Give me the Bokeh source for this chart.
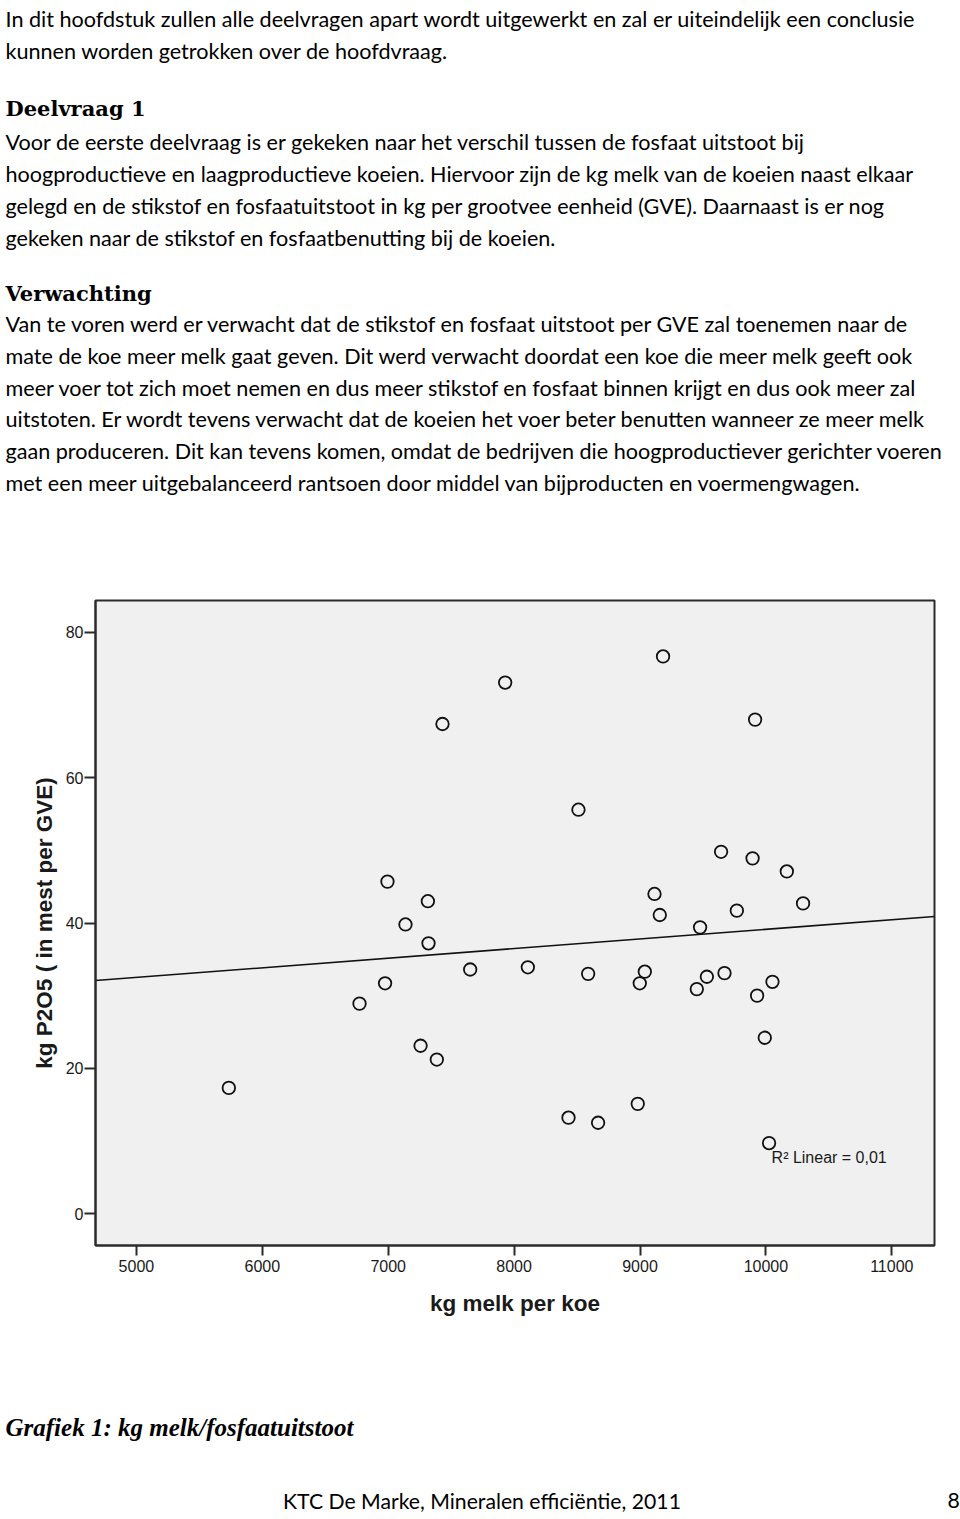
import numpy as np
from bokeh.plotting import figure
from bokeh.models import Range1d, FixedTicker, Label
from bokeh.core.properties import value
from bokeh.embed import file_html
from bokeh.resources import INLINE

# ---------------- data ----------------
milk_kg = [5734, 6772, 6975, 6994, 7137, 7257, 7315, 7320, 7386, 7431,
           7651, 7929, 8109, 8432, 8511, 8588, 8667, 8982, 8998, 9038,
           9115, 9157, 9183, 9451, 9477, 9531, 9644, 9671, 9769, 9894,
           9914, 9930, 9991, 10025, 10052, 10166, 10295]
p2o5_kg = [17.3, 28.9, 31.7, 45.7, 39.8, 23.1, 43.0, 37.2, 21.2, 67.4,
           33.6, 73.1, 33.9, 13.2, 55.6, 33.0, 12.5, 15.1, 31.7, 33.3,
           44.0, 41.1, 76.7, 30.9, 39.4, 32.6, 49.8, 33.1, 41.7, 48.9,
           68.0, 30.0, 24.2, 9.7, 31.9, 47.1, 42.7]
x_ticks = [5000, 6000, 7000, 8000, 9000, 10000, 11000]
y_ticks = [0, 20, 40, 60, 80]
x_bounds = (4675, 11339)
y_bounds = (-4.4, 84.4)
r2_text = "R\u00b2 Linear = 0,01"
x_title = "kg melk per koe"
y_title = "kg P2O5 ( in mest per GVE)"

# page texts: (text, baseline, style)
page_lines = [
    ("In dit hoofdstuk zullen alle deelvragen apart wordt uitgewerkt en zal er uiteindelijk een conclusie", 18.3, "body"),
    ("kunnen worden getrokken over de hoofdvraag.", 50.0, "body"),
    ("Deelvraag 1", 108.0, "head"),
    ("Voor de eerste deelvraag is er gekeken naar het verschil tussen de fosfaat uitstoot bij", 141.7, "body"),
    ("hoogproductieve en laagproductieve koeien. Hiervoor zijn de kg melk van de koeien naast elkaar", 173.6, "body"),
    ("gelegd en de stikstof en fosfaatuitstoot in kg per grootvee eenheid (GVE). Daarnaast is er nog", 205.5, "body"),
    ("gekeken naar de stikstof en fosfaatbenutting bij de koeien.", 237.3, "body"),
    ("Verwachting", 293.3, "head"),
    ("Van te voren werd er verwacht dat de stikstof en fosfaat uitstoot per GVE zal toenemen naar de", 323.3, "body"),
    ("mate de koe meer melk gaat geven. Dit werd verwacht doordat een koe die meer melk geeft ook", 355.1, "body"),
    ("meer voer tot zich moet nemen en dus meer stikstof en fosfaat binnen krijgt en dus ook meer zal", 387.0, "body"),
    ("uitstoten.  Er wordt tevens verwacht dat de koeien het voer beter benutten wanneer ze meer melk", 418.7, "body"),
    ("gaan produceren. Dit kan tevens komen, omdat de bedrijven die hoogproductiever gerichter voeren", 450.5, "body"),
    ("met een meer uitgebalanceerd rantsoen door middel van bijproducten en voermengwagen.", 482.3, "body"),
]
caption = "Grafiek 1:  kg melk/fosfaatuitstoot"
footer = "KTC De Marke, Mineralen effici\u00ebntie, 2011"
page_no = "8"

body_font = "Lato"
head_font = "DejaVu Serif"
axis_font = "Liberation Sans"
ink = "#1a1a1a"

W = 960
TOP_H = 540                  # page rows 0..540
CH_Y0, CH_H = 540, 820       # chart occupies page rows 540..1360
BOT_Y0 = 1365                # browser leaves a small gap before the last root
BOT_H = 154


def text_panel(y0, h):
    f = figure(width=W, height=h, output_backend="svg", toolbar_location=None,
               x_range=Range1d(0, W), y_range=Range1d(y0 + h, y0),
               x_axis_location=None, y_axis_location=None, min_border=0,
               min_border_left=0, min_border_right=0, min_border_top=0,
               min_border_bottom=0, outline_line_color=None,
               background_fill_color="white", border_fill_color="white")
    f.grid.visible = False
    return f


def put(f, x, y, txt, font, size, style="normal", align="left"):
    f.text(x=[x], y=[y], text=[txt], text_font=value(font), text_font_size=size,
           text_font_style=style, text_color="black",
           text_baseline="alphabetic", text_align=align)


# ---------------- top text ----------------
top = text_panel(0, TOP_H)
for txt, base, kind in page_lines:
    if kind == "head":
        put(top, 5, base, txt, head_font, "21px", "bold")
    else:
        put(top, 5, base, txt, body_font, "21.6px")

# ---------------- chart ----------------
p = figure(width=W, height=CH_H, output_backend="svg", toolbar_location=None,
           x_range=Range1d(*x_bounds), y_range=Range1d(*y_bounds),
           min_border_left=95, min_border_right=26, min_border_top=600 - CH_Y0,
           min_border_bottom=CH_Y0 + CH_H - 1245, background_fill_color="#f0f0f0",
           border_fill_color="white", outline_line_color="#2b2b2b",
           outline_line_width=2)
p.grid.visible = False

for ax in (p.xaxis[0], p.yaxis[0]):
    ax.axis_line_color = "#2b2b2b"
    ax.axis_line_width = 2
    ax.major_tick_line_color = "#2b2b2b"
    ax.major_tick_line_width = 2
    ax.major_tick_in = 0
    ax.minor_tick_line_color = None
    ax.major_label_text_font = axis_font
    ax.major_label_text_font_size = "16px"
    ax.major_label_text_color = ink
    ax.axis_label_text_font = axis_font
    ax.axis_label_text_font_size = "22.5px"
    ax.axis_label_text_font_style = "bold"
    ax.axis_label_text_color = ink

p.xaxis.ticker = FixedTicker(ticks=x_ticks)
p.yaxis.ticker = FixedTicker(ticks=y_ticks)
p.xaxis.major_tick_out = 10
p.yaxis.major_tick_out = 11
p.xaxis.major_label_standoff = 4
p.yaxis.major_label_standoff = 1
p.xaxis.axis_label = x_title
p.yaxis.axis_label = y_title
p.xaxis.axis_label_standoff = 16
p.yaxis.axis_label_standoff = 6

slope, intercept = np.polyfit(milk_kg, p2o5_kg, 1)
fit_x = np.array(x_bounds, dtype=float)
p.line(fit_x, intercept + slope * fit_x, line_color="#111111", line_width=1.6)

p.scatter(milk_kg, p2o5_kg, marker="circle", size=12.5, fill_color=None,
          line_color="#111111", line_width=1.8)

p.add_layout(Label(x=10045, y=7.7, text=r2_text, text_font=axis_font,
                   text_font_size="16px", text_color=ink,
                   text_baseline="middle", text_align="left"))

# ---------------- bottom text ----------------
bot = text_panel(BOT_Y0, BOT_H)
put(bot, 5, 1432, caption, "Liberation Serif", "25px", "bold italic")
put(bot, 481.5, 1505, footer, body_font, "21.2px", align="center")
put(bot, 947, 1505, page_no, body_font, "21.2px")

open("out.html", "w").write(file_html([top, p, bot], INLINE))
